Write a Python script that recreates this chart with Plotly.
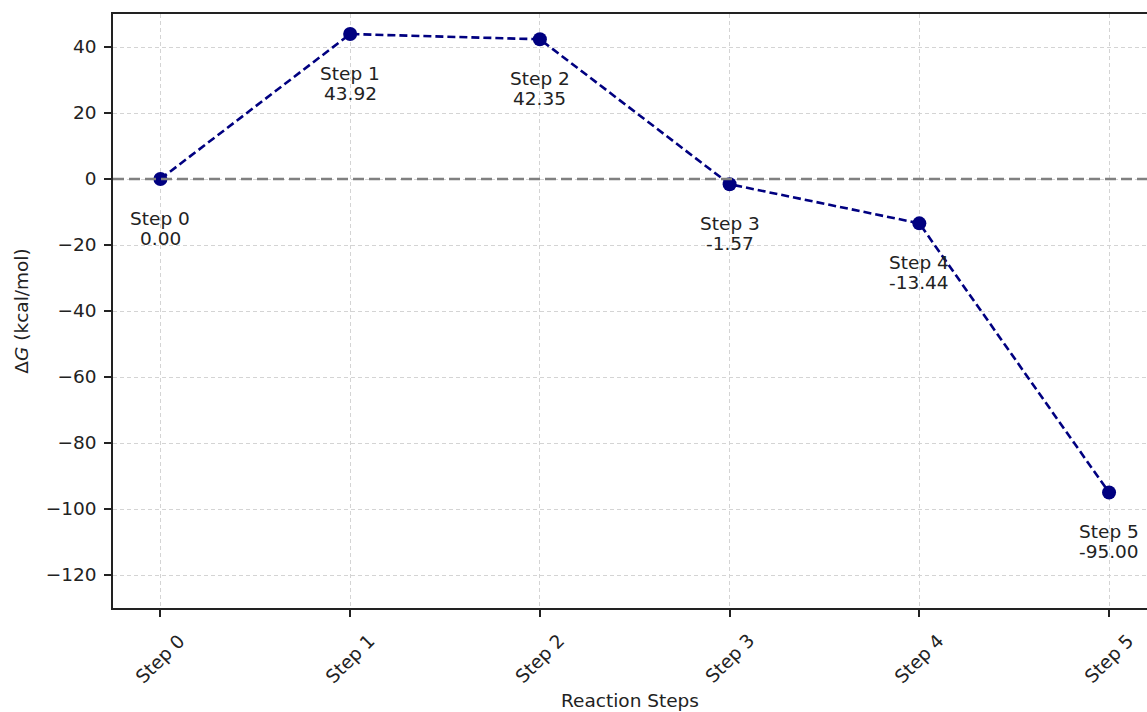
import plotly.graph_objects as go

steps = ["Step 0", "Step 1", "Step 2", "Step 3", "Step 4", "Step 5"]
delta_g = [0.00, 43.92, 42.35, -1.57, -13.44, -95.00]
y_ticks = [-120, -100, -80, -60, -40, -20, 0, 20, 40]

FONT = "DejaVu Sans"
FS = 18.5
TXT = "#222222"
x_idx = list(range(len(steps)))

fig = go.Figure()

fig.add_hline(y=0, line=dict(color="#808080", width=2.5, dash="11px,5px"), layer="above")

fig.add_trace(go.Scatter(
    x=x_idx, y=delta_g, mode="lines+markers",
    line=dict(color="#000080", width=2.6, dash="8px,4px"),
    marker=dict(color="#000080", size=14),
    showlegend=False,
))

for i, (s, v) in enumerate(zip(steps, delta_g)):
    fig.add_annotation(
        x=i, y=v, xref="x", yref="y", text=s,
        showarrow=False, yanchor="middle", xanchor="center", yshift=-39,
        font=dict(family=FONT, size=FS, color=TXT),
    )
    fig.add_annotation(
        x=i, y=v, xref="x", yref="y", text=f"{v:.2f}",
        showarrow=False, yanchor="middle", xanchor="center", yshift=-59,
        font=dict(family=FONT, size=FS, color=TXT),
    )
    fig.add_annotation(
        x=i, y=0, xref="x", yref="paper", text=s, textangle=-45,
        showarrow=False, yanchor="top", xanchor="center", yshift=-19,
        font=dict(family=FONT, size=FS, color=TXT),
    )

fig.update_layout(
    width=1147, height=712,
    margin=dict(l=113, r=0, t=14, b=104),
    paper_bgcolor="white", plot_bgcolor="white",
    font=dict(family=FONT, size=FS, color=TXT),
    xaxis=dict(
        range=[-0.25, 5.2], tickmode="array", tickvals=x_idx, ticktext=steps,
        showticklabels=False, ticks="outside", ticklen=7, tickwidth=1.5, tickcolor="#222",
        showline=True, linecolor="#222", linewidth=1.5, mirror=True,
        showgrid=True, gridcolor="#d4d4d4", gridwidth=1, griddash="4px,3px",
        zeroline=False,
        title=dict(text="Reaction Steps", standoff=78, font=dict(family=FONT, size=FS, color=TXT)),
    ),
    yaxis=dict(
        range=[-130, 50], tickmode="array", tickvals=y_ticks,
        ticks="outside", ticklen=7, tickwidth=1.5, tickcolor="#222",
        showline=True, linecolor="#222", linewidth=1.5, mirror=False,
        showgrid=True, gridcolor="#d4d4d4", gridwidth=1, griddash="4px,3px",
        zeroline=False, ticklabelstandoff=4,
        tickfont=dict(family=FONT, size=FS, color=TXT),
        title=dict(text="Δ<i>G</i> (kcal/mol)", standoff=12, font=dict(family=FONT, size=FS, color=TXT)),
    ),
)

fig.write_html(
    "out.html",
    config={"displayModeBar": False},
    post_script="document.body.style.margin='0';document.body.style.overflow='hidden';",
)
